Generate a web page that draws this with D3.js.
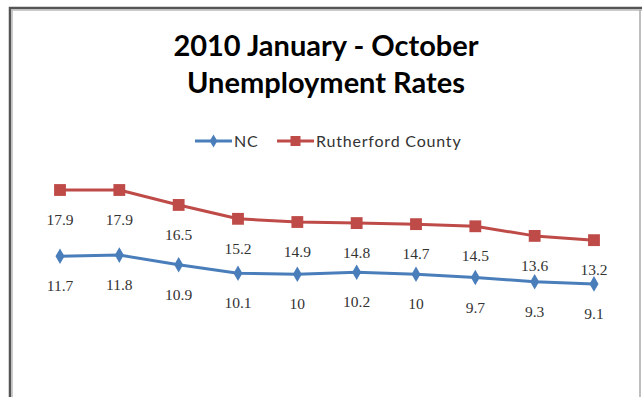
<!DOCTYPE html>
<html>
<head>
<meta charset="utf-8">
<script src="https://cdn.jsdelivr.net/npm/d3@7"></script>
<style>
  body { margin: 0; background: #fff; }
  svg { display: block; }
</style>
</head>
<body>
<svg id="chart" width="642" height="397"></svg>
<script>
// data
const months = ["Jan", "Feb", "Mar", "Apr", "May", "Jun", "Jul", "Aug", "Sep", "Oct"];
const ncRates = [11.7, 11.8, 10.9, 10.1, 10, 10.2, 10, 9.7, 9.3, 9.1];
const rutherfordRates = [17.9, 17.9, 16.5, 15.2, 14.9, 14.8, 14.7, 14.5, 13.6, 13.2];
const seriesNames = ["NC", "Rutherford County"];
const titleLines = ["2010 January - October", "Unemployment Rates"];

const blue = "#4a7ebb", red = "#be4b48";

const svg = d3.select("#chart");

// frame
svg.append("rect").attr("x", 0).attr("y", 0).attr("width", 642).attr("height", 397).attr("fill", "#fff");
svg.append("path")
	.attr("d", "M10,397 V8 H642")
	.attr("fill", "none").attr("stroke", "#555").attr("stroke-width", 2.5);
svg.append("path")
	.attr("d", "M12,397 V10 H642")
	.attr("fill", "none").attr("stroke", "#bbb").attr("stroke-width", 1.5);
svg.append("line")
	.attr("x1", 640).attr("x2", 640).attr("y1", 10).attr("y2", 397)
	.attr("stroke", "#aaa").attr("stroke-width", 1.5);

// title
svg.append("text")
	.attr("text-anchor", "middle")
	.style("font-family", "Lato, 'Open Sans', sans-serif")
	.style("font-weight", "bold").style("font-size", "29px")
	.attr("fill", "#000")
	.selectAll("tspan").data(titleLines).enter().append("tspan")
	.attr("x", 326)
	.attr("y", (d, i) => 56 + i * 37)
	.text(d => d);

// scales
const x = d3.scalePoint().domain(months).range([60, 594]);
const y = d3.scaleLinear().domain([0, 20]).range([381, 167.6]);

const series = [
	{ name: seriesNames[0], values: ncRates, color: blue, marker: d3.symbolDiamond, size: 70 },
	{ name: seriesNames[1], values: rutherfordRates, color: red, marker: d3.symbolSquare, size: 140 }
];

const line = d3.line()
	.x(d => x(d.m))
	.y(d => y(d.v));

series.forEach(s => {
	const pts = months.map((m, i) => ({ m: m, v: s.values[i] }));
	const g = svg.append("g");
	g.append("path")
		.attr("d", line(pts))
		.attr("fill", "none")
		.attr("stroke", s.color)
		.attr("stroke-width", 3)
		.attr("stroke-linejoin", "round");
	g.selectAll(".marker").data(pts).enter().append("path")
		.attr("class", "marker")
		.attr("transform", d => `translate(${x(d.m)},${y(d.v)})`)
		.attr("d", d3.symbol().type(s.marker).size(s.size))
		.attr("fill", s.color);
	g.selectAll(".label").data(pts).enter().append("text")
		.attr("class", "label")
		.attr("x", d => x(d.m))
		.attr("y", d => y(d.v) + 35)
		.attr("text-anchor", "middle")
		.style("font-family", "'Liberation Serif', serif")
		.style("font-size", "15.5px")
		.attr("fill", "#333")
		.text(d => d.v);
});

// legend
const legendItems = [
	{ name: seriesNames[0], color: blue, marker: d3.symbolDiamond, size: 50, x0: 195 },
	{ name: seriesNames[1], color: red, marker: d3.symbolSquare, size: 100, x0: 277 }
];
const legend = svg.append("g");
legendItems.forEach(it => {
	legend.append("line")
		.attr("x1", it.x0).attr("x2", it.x0 + 37)
		.attr("y1", 141).attr("y2", 141)
		.attr("stroke", it.color).attr("stroke-width", 3);
	legend.append("path")
		.attr("transform", `translate(${it.x0 + 18.5},141)`)
		.attr("d", d3.symbol().type(it.marker).size(it.size))
		.attr("fill", it.color);
	legend.append("text")
		.attr("x", it.x0 + 39).attr("y", 146.5)
		.style("font-family", "Lato, 'Open Sans', sans-serif")
		.style("font-size", "16px")
		.style("letter-spacing", "0.8px")
		.attr("fill", "#333")
		.text(it.name);
});
</script>
</body>
</html>
